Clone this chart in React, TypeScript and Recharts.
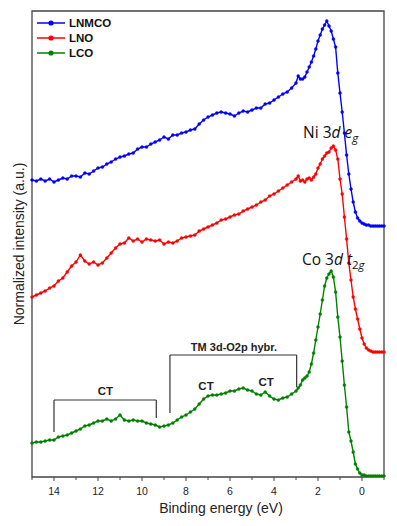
import {
  LineChart, Line, XAxis, YAxis, ReferenceArea, ReferenceLine, ReferenceDot,
} from 'recharts'

// binding energy grid (eV)
const energy = [
  15, 14.8, 14.6, 14.4, 14.2, 14, 13.8, 13.6, 13.4, 13.2,
  13, 12.8, 12.6, 12.4, 12.2, 12, 11.8, 11.6, 11.4, 11.2,
  11, 10.8, 10.6, 10.4, 10.2, 10, 9.8, 9.6, 9.4, 9.2,
  9, 8.8, 8.6, 8.4, 8.2, 8, 7.8, 7.6, 7.4, 7.2,
  7, 6.8, 6.6, 6.4, 6.2, 6, 5.8, 5.6, 5.4, 5.2,
  5, 4.8, 4.6, 4.4, 4.2, 4, 3.8, 3.6, 3.4, 3.2,
  3,
  2.9, 2.8, 2.7, 2.6, 2.5, 2.4, 2.3, 2.2, 2.1, 2,
  1.9, 1.8, 1.7, 1.6, 1.5, 1.4, 1.3, 1.2, 1.1, 1,
  0.9, 0.8, 0.7, 0.6, 0.5, 0.4, 0.3, 0.2, 0.1, 0,
  -0.1, -0.2, -0.3, -0.4, -0.5, -0.6, -0.7, -0.8, -0.9, -1,
]

// offset intensities (a.u.)
const lnmco = [
  297, 296, 298, 296, 298, 295, 297, 299, 298, 301,
  301, 300, 304, 303, 306, 309, 310, 313, 315, 318,
  320, 321, 323, 324, 328, 330, 330, 333, 335, 337,
  340, 338, 342, 342, 344, 345, 347, 348, 353, 357,
  360, 362, 364, 365, 364, 363, 361, 364, 366, 365,
  367, 369, 369, 373, 374, 377, 380, 383, 385, 389,
  394,
  401, 398, 398, 400, 405, 410, 415, 421, 428, 436,
  442, 448, 452, 456, 451, 446, 438, 430, 404, 384,
  365, 344, 322, 303, 288, 275, 265, 259, 256, 254,
  253, 252, 252, 251, 251, 251, 251, 251, 251, 251,
]

const lno = [
  180, 182, 184, 186, 189, 191, 196, 199, 205, 211,
  215, 222, 216, 213, 215, 212, 214, 219, 224, 229,
  233, 234, 239, 236, 238, 235, 238, 237, 236, 237,
  233, 235, 234, 236, 239, 240, 241, 242, 246, 248,
  250, 252, 254, 257, 258, 260, 262, 263, 266, 268,
  270, 272, 275, 277, 281, 283, 286, 289, 292, 295,
  298,
  301, 296, 297, 295, 298, 299, 297, 300, 303, 309,
  313, 318, 321, 324, 325, 329, 331, 327, 318, 298,
  283, 260, 238, 214, 197, 180, 168, 158, 148, 139,
  133, 129, 127, 126, 125, 125, 125, 125, 125, 125,
]

const lco = [
  34, 35, 35, 36, 37, 37, 40, 41, 42, 44,
  46, 48, 51, 52, 54, 56, 56, 58, 56, 58,
  62, 57, 56, 57, 56, 56, 54, 53, 52, 50,
  51, 52, 54, 57, 60, 62, 65, 68, 73, 78,
  81, 82, 82, 83, 84, 86, 86, 88, 89, 87,
  86, 83, 82, 85, 81, 78, 77, 79, 80, 83,
  86,
  89, 92, 97, 99, 101, 105, 113, 124, 137, 150,
  163, 177, 191, 199, 203, 206, 200, 185, 160, 140,
  116, 92, 70, 45, 36, 25, 13, 8, 4, 2,
  2, 1, 1, 1, 1, 1, 1, 1, 1, 1,
]

const xTicks = [15, 14, 13, 12, 11, 10, 9, 8, 7, 6, 5, 4, 3, 2, 1, 0, -1]

const series = [
  { key: 'LNMCO', values: lnmco, color: '#0000ff' },
  { key: 'LNO', values: lno, color: '#ff0000' },
  { key: 'LCO', values: lco, color: '#008000' },
]

const data = energy.map((e, i) => {
  const row: Record<string, number> = { e }
  series.forEach(s => { row[s.key] = s.values[i] })
  return row
})

const AXIS = '#444'
const SANS = '"Liberation Sans", Arial, sans-serif'

const EnergyTick = ({ x, y, payload }: any) => {
  const major = payload.value % 2 === 0
  return (
    <g>
      <line x1={x} x2={x} y1={y} y2={y + (major ? 4 : 3)} stroke={AXIS} strokeWidth={1} />
      {major && (
        <text x={x} y={y + 18} textAnchor="middle" fontSize={10.5} fontFamily={SANS} fill="#222">
          {payload.value}
        </text>
      )}
    </g>
  )
}

const boldText = (value: string, size: number) => (p: any) => (
  <text x={p.cx} y={p.cy} textAnchor="middle" fontSize={size} fontWeight="bold" fontFamily={SANS} fill="#222">
    {value}
  </text>
)

const NiLabel = (p: any) => (
  <text x={p.cx} y={p.cy} fontSize={15.5} fontFamily='"Open Sans", sans-serif' fill="#111">
    Ni 3<tspan fontStyle="italic">d</tspan> <tspan fontStyle="italic">e</tspan>
    <tspan fontStyle="italic" fontSize={11.5} dy={4}>g</tspan>
  </text>
)

const CoLabel = (p: any) => (
  <text x={p.cx} y={p.cy} fontSize={15.5} fontFamily='"Open Sans", sans-serif' fill="#111">
    Co 3<tspan fontStyle="italic">d</tspan> <tspan fontStyle="italic">t</tspan>
    <tspan fontSize={11.5} dy={4}>2</tspan><tspan fontStyle="italic" fontSize={11.5}>g</tspan>
  </text>
)

const bracket = { stroke: '#333', strokeWidth: 1.2 }

export default function App() {
  return (
    <div style={{ position: 'relative', width: 397, height: 526, background: '#fff' }}>
      <style>{'body{margin:0}'}</style>
      <LineChart width={397} height={526} data={data} margin={{ top: 11, right: 13, left: 0, bottom: 0 }}>
        <XAxis
          dataKey="e"
          type="number"
          domain={[-1, 15]}
          reversed
          ticks={xTicks}
          interval={0}
          axisLine={false}
          tickLine={false}
          tickSize={0}
          tickMargin={0}
          tick={<EnergyTick />}
          height={49}
          label={{
            value: 'Binding energy (eV)', position: 'insideBottom', offset: 13, dx: 13,
            style: { fontSize: 14, fontFamily: SANS, fill: '#222' },
          }}
        />
        <YAxis
          type="number"
          domain={[0, 466]}
          allowDataOverflow
          tick={false}
          tickLine={false}
          axisLine={false}
          width={32}
          label={{
            value: 'Normalized intensity (a.u.)', angle: -90, position: 'center', dx: 3,
            style: { fontSize: 14, fontFamily: SANS, fill: '#222' },
          }}
        />
        <ReferenceArea x1={15} x2={-1} y1={0} y2={466} fill="none" stroke={AXIS} strokeWidth={1.3} fillOpacity={0} />

        <ReferenceLine segment={[{ x: 14, y: 77 }, { x: 9.35, y: 77 }]} {...bracket} />
        <ReferenceLine segment={[{ x: 14, y: 77 }, { x: 14, y: 45 }]} {...bracket} />
        <ReferenceLine segment={[{ x: 9.35, y: 77 }, { x: 9.35, y: 59 }]} {...bracket} />
        <ReferenceLine segment={[{ x: 8.73, y: 122 }, { x: 2.97, y: 122 }]} {...bracket} />
        <ReferenceLine segment={[{ x: 8.73, y: 122 }, { x: 8.73, y: 64 }]} {...bracket} />
        <ReferenceLine segment={[{ x: 2.97, y: 122 }, { x: 2.97, y: 90 }]} {...bracket} />

        {series.map(s => (
          <Line
            key={s.key}
            dataKey={s.key}
            type="linear"
            stroke={s.color}
            strokeWidth={1.4}
            dot={{ r: 1.5, fill: s.color, stroke: s.color, strokeWidth: 0.4 }}
            isAnimationActive={false}
          />
        ))}

        <ReferenceDot x={11.66} y={82} r={0} shape={boldText('CT', 11.5)} />
        <ReferenceDot x={7.09} y={87} r={0} shape={boldText('CT', 11.5)} />
        <ReferenceDot x={4.36} y={91} r={0} shape={boldText('CT', 11.5)} />
        <ReferenceDot x={5.82} y={126} r={0} shape={boldText('TM 3d-O2p hybr.', 11)} />
        <ReferenceDot x={2.68} y={339} r={0} shape={NiLabel} />
        <ReferenceDot x={2.73} y={212} r={0} shape={CoLabel} />
      </LineChart>

      <svg width={130} height={64} style={{ position: 'absolute', left: 0, top: 0 }}>
        {series.map((s, i) => (
          <g key={s.key}>
            <line x1={37} x2={65} y1={23 + i * 15} y2={23 + i * 15} stroke={s.color} strokeWidth={1.5} />
            <circle cx={51} cy={23 + i * 15} r={2.6} fill={s.color} />
            <text x={69} y={27 + i * 15} fontSize={11.5} fontWeight="bold" fontFamily={SANS} fill="#111">
              {s.key}
            </text>
          </g>
        ))}
      </svg>
    </div>
  )
}
